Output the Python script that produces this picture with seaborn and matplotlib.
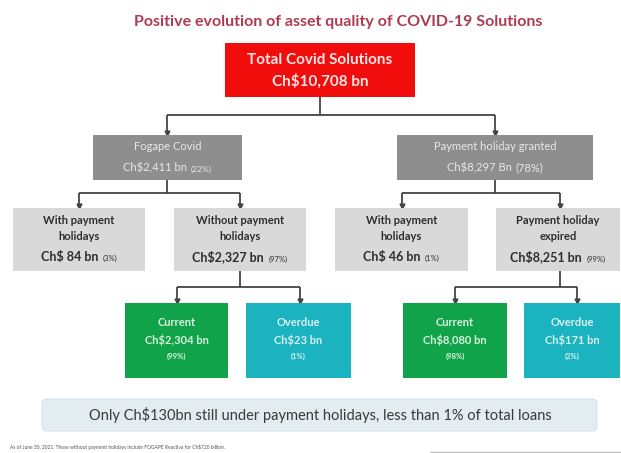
import matplotlib
matplotlib.use("Agg")
import matplotlib.pyplot as plt
import seaborn as sns
from matplotlib.patches import Rectangle, FancyBboxPatch
from matplotlib.offsetbox import TextArea, HPacker, AnnotationBbox

sns.set_theme(style="white")
plt.rcParams['font.family'] = ['Lato', 'DejaVu Sans']

# ---- data ----
title = "Positive evolution of asset quality of COVID-19 Solutions"
node_names = ["Total Covid Solutions",
              "Fogape Covid", "Payment holiday granted",
              "With payment\nholidays", "Without payment\nholidays",
              "With payment\nholidays", "Payment holiday\nexpired",
              "Current", "Overdue", "Current", "Overdue"]
node_amounts = ["Ch$10,708 bn",
                "Ch$2,411 bn", "Ch$8,297 Bn",
                "Ch$ 84 bn", "Ch$2,327 bn", "Ch$ 46 bn", "Ch$8,251 bn",
                "Ch$2,304 bn", "Ch$23 bn", "Ch$8,080 bn", "Ch$171 bn"]
node_shares = ["", "(22%)", "(78%)",
               "(3%)", "(97%)", "(1%)", "(99%)",
               "(99%)", "(1%)", "(98%)", "(2%)"]
parent_of = [None, 0, 0, 1, 1, 2, 2, 4, 4, 6, 6]
banner_text = "Only Ch$130bn still under payment holidays, less than 1% of total loans"
footnote = "As of June 30, 2021. Those without payment holidays include FOGAPE Reactiva for Ch$720 billion."

# ---- layout (pixel coordinates, y downward) ----
boxes = [(225, 43, 415, 97),
         (93, 135, 242, 180), (397, 135, 593, 180),
         (13, 208, 145, 271), (174, 208, 306, 271), (335, 208, 468, 271), (496, 208, 620, 271),
         (125, 303, 228, 378), (246, 303, 351, 378), (403, 303, 507, 378), (524, 303, 620, 378)]
colors = ["#f20d0d",
          "#8e8e8e", "#8e8e8e",
          "#d9d9d9", "#d9d9d9", "#d9d9d9", "#d9d9d9",
          "#10a34a", "#1bb3c0", "#10a34a", "#1bb3c0"]
text_colors = ["#fbe6e6", "#e8e8e8", "#e8e8e8",
               "#2e2e2e", "#2e2e2e", "#2e2e2e", "#2e2e2e",
               "#d9f2df", "#d8f1f3", "#d9f2df", "#d8f1f3"]
bus_y = {0: 115, 1: 193, 2: 193, 4: 287, 6: 287}
conn_x = {1: 167, 2: 495, 3: 79, 4: 240, 5: 402, 6: 560, 7: 177, 8: 300, 9: 455, 10: 577}
parent_x = {0: 320, 1: 167, 2: 495, 4: 240, 6: 560}

fig = plt.figure(figsize=(6.21, 4.53), dpi=100)
ax = fig.add_axes([0, 0, 1, 1])
ax.set_xlim(0, 621)
ax.set_ylim(453, 0)
ax.axis("off")

ax.text(338, 22, title, ha="center", va="center", fontsize=11.5,
        fontweight="bold", color="#b03a52")

line_kw = dict(color="#444444", lw=1.3, solid_capstyle="butt")
# connectors
for p in sorted(set(x for x in parent_of if x is not None)):
    kids = [i for i, q in enumerate(parent_of) if q == p]
    yb = boxes[p][3]
    yb_bus = bus_y[p]
    ax.plot([parent_x[p], parent_x[p]], [yb, yb_bus], **line_kw)
    xs = [conn_x[k] for k in kids]
    ax.plot([min(xs), max(xs)], [yb_bus, yb_bus], **line_kw)
    for k in kids:
        ax.plot([conn_x[k], conn_x[k]], [yb_bus, boxes[k][1] - 1], **line_kw)
        ax.plot(conn_x[k], boxes[k][1] - 2.5, marker="v", ms=3.5, color="#444444")

# boxes and texts
for i, (x0, y0, x1, y1) in enumerate(boxes):
    ax.add_patch(Rectangle((x0, y0), x1 - x0, y1 - y0, facecolor=colors[i],
                           edgecolor="none", zorder=2))
    cx = (x0 + x1) / 2
    tc = text_colors[i]
    if i == 0:
        ax.text(cx, 60, node_names[i], ha="center", va="center", fontsize=11,
                fontweight="bold", color=tc, zorder=3)
        ax.text(cx, 81, node_amounts[i], ha="center", va="center", fontsize=11,
                fontweight="bold", color=tc, zorder=3)
    elif i in (1, 2):
        ax.text(cx, 147, node_names[i], ha="center", va="center", fontsize=8,
                color=tc, zorder=3)
        share_size = 6 if i == 1 else 8
        hp = HPacker(children=[TextArea(node_amounts[i], textprops=dict(fontsize=8, color=tc)),
                               TextArea(node_shares[i], textprops=dict(fontsize=share_size, color=tc))],
                     align="baseline", pad=0, sep=3)
        ab = AnnotationBbox(hp, (cx, 168), frameon=False, box_alignment=(0.5, 0.5), zorder=3)
        ax.add_artist(ab)
    elif i <= 6:
        for j, line in enumerate(node_names[i].split("\n")):
            ax.text(cx, 220 + 16 * j, line, ha="center", va="center", fontsize=8,
                    fontweight="bold", color=tc, zorder=3)
        hp = HPacker(children=[TextArea(node_amounts[i], textprops=dict(fontsize=9, fontweight="bold", color=tc)),
                               TextArea(node_shares[i], textprops=dict(fontsize=5.5, color=tc))],
                     align="baseline", pad=0, sep=3)
        ab = AnnotationBbox(hp, (cx, 257), frameon=False, box_alignment=(0.5, 0.5), zorder=3)
        ax.add_artist(ab)
    else:
        ax.text(cx, 322, node_names[i], ha="center", va="center", fontsize=8,
                fontweight="bold", color=tc, zorder=3)
        ax.text(cx, 340, node_amounts[i], ha="center", va="center", fontsize=8,
                fontweight="bold", color=tc, zorder=3)
        ax.text(cx, 356, node_shares[i], ha="center", va="center", fontsize=5.5,
                fontweight="bold", color=tc, zorder=3)

# banner
ax.add_patch(FancyBboxPatch((42, 399), 555, 32, boxstyle="round,pad=0,rounding_size=5",
                            facecolor="#e2ecf1", edgecolor="#d7e3ea", lw=0.8, zorder=2))
ax.text(320, 415, banner_text, ha="center", va="center", fontsize=10.5,
        color="#3a3a3a", zorder=3)

ax.text(10, 447, footnote, ha="left", va="center", fontsize=3.5, color="#555555")
ax.plot([430, 621], [452, 452], color="#bbbbbb", lw=1)

fig.savefig("out.png", dpi=100)
